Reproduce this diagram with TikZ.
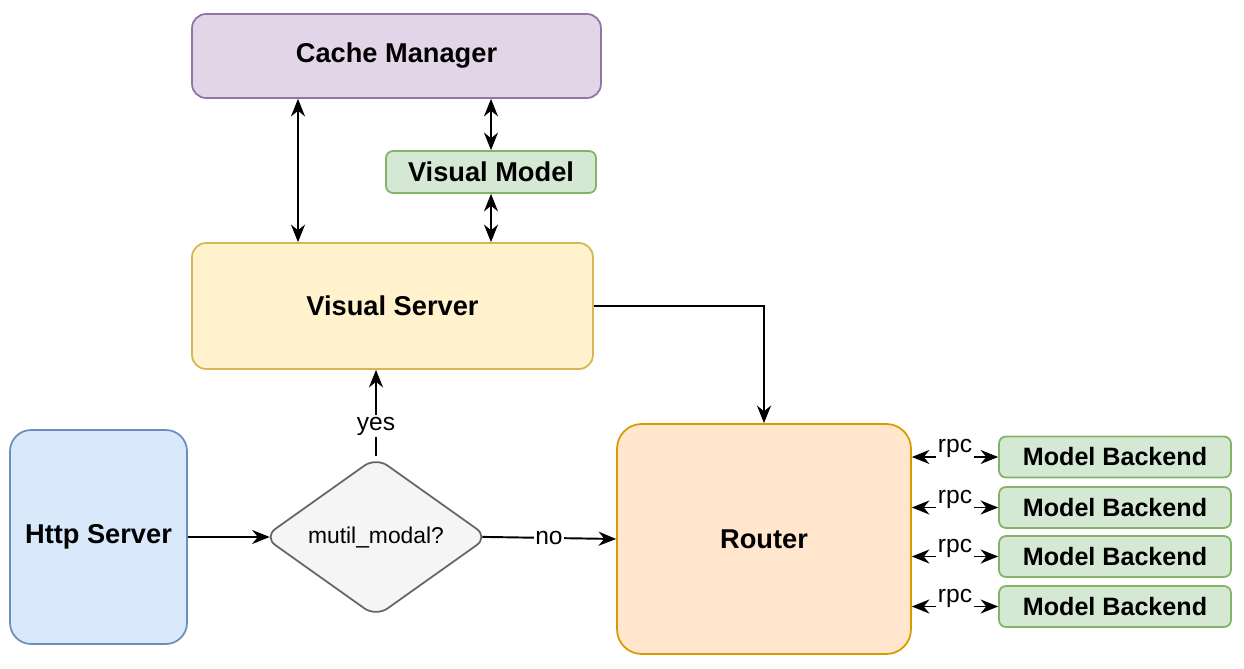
\documentclass[tikz,border=0pt]{standalone}
\usepackage{fontspec}
\setmainfont{Liberation Sans}
\usetikzlibrary{shapes.geometric,arrows.meta,positioning}
\definecolor{cachefill}{HTML}{E1D5E7}\definecolor{cacheline}{HTML}{9673A6}
\definecolor{greenfill}{HTML}{D5E8D4}\definecolor{greenline}{HTML}{82B366}
\definecolor{yellowfill}{HTML}{FFF2CC}\definecolor{yellowline}{HTML}{D6B656}
\definecolor{bluefill}{HTML}{DAE8FC}\definecolor{blueline}{HTML}{6C8EBF}
\definecolor{greyfill}{HTML}{F5F5F5}\definecolor{greyline}{HTML}{666666}
\definecolor{orangefill}{HTML}{FFE6CC}\definecolor{orangeline}{HTML}{D79B00}
\tikzset{
	box/.style={draw, rounded corners=8pt, line width=1pt, font=\bfseries\fontsize{15.5}{18}\selectfont, inner sep=0pt},
	link/.style={-{Stealth[length=10pt,width=8pt]}, line width=1.1pt},
	dlink/.style={{Stealth[length=10pt,width=8pt]}-{Stealth[length=10pt,width=8pt]}, line width=1.1pt},
	lbl/.style={font=\fontsize{14}{16}\selectfont, fill=white, inner sep=1pt}
}
\begin{document}
\begin{tikzpicture}[x=0.02cm, y=-0.02cm]
	\useasboundingbox (0,0) rectangle (1244,669);

	% boxes
	\node[box, fill=cachefill, draw=cacheline, minimum width=8.18cm, minimum height=1.68cm] (cache) at (396.5,56) {Cache Manager};
	\node[box, fill=greenfill, draw=greenline, rounded corners=4pt, minimum width=4.2cm, minimum height=0.84cm] (vmodel) at (491,172) {Visual Model};
	\node[box, fill=yellowfill, draw=yellowline, minimum width=8.02cm, minimum height=2.52cm] (vserver) at (392.5,306) {Visual Server};
	\node[box, fill=bluefill, draw=blueline, rounded corners=12pt, minimum width=3.54cm, minimum height=4.28cm] (http) at (98.5,537) {Http Server};
	\node[draw=greyline, fill=greyfill, line width=1pt, diamond, rounded corners=8pt, minimum width=4.5cm, minimum height=3.2cm, inner sep=0pt, font=\fontsize{13}{16}\selectfont] (modal) at (376,537) {mutil\_modal?};
	\node[box, fill=orangefill, draw=orangeline, rounded corners=14pt, minimum width=5.88cm, minimum height=4.6cm] (router) at (764,539) {Router};

	% backends
	\foreach \i/\y in {1/457, 2/507.5, 3/556.5, 4/606.5}{
		\node[box, fill=greenfill, draw=greenline, rounded corners=4pt, minimum width=4.64cm, minimum height=0.82cm, font=\bfseries\fontsize{14.3}{16}\selectfont] (mb\i) at (1115,\y) {Model Backend};
		\draw[dlink] (router.east |- mb\i) -- node[lbl, above=-2pt] {rpc} (mb\i.west);
	}

	% connections
	\draw[dlink] (cache.south -| 298,0) -- (vserver.north -| 298,0);
	\draw[dlink] (cache.south -| vmodel) -- (vmodel.north);
	\draw[dlink] (vmodel.south) -- (vserver.north -| vmodel);
	\draw[link] (vserver.east) -| (router.north);
	\draw[link] (modal.north) -- node[lbl, pos=0.35] {yes} (vserver.south -| modal);
	\draw[link, shorten >=-4pt] (http.east) -- (modal.west);
	\draw[link, shorten <=-4pt] (modal.east) -- node[lbl, pos=0.47] {no} (router.west);
\end{tikzpicture}
\end{document}
